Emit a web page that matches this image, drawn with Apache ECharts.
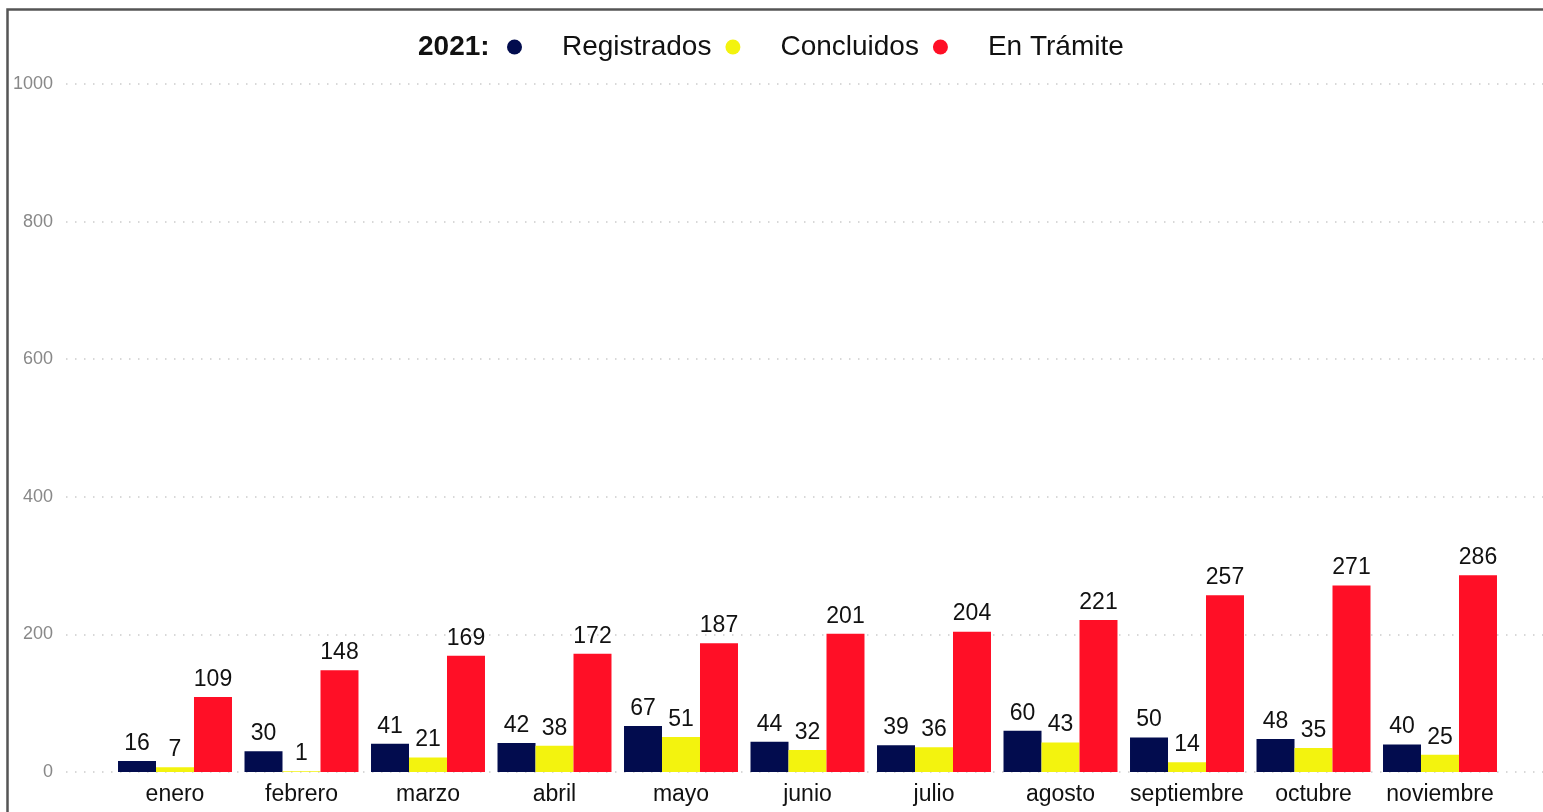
<!DOCTYPE html>
<html>
<head>
<meta charset="utf-8">
<title>2021 - Registrados / Concluidos / En Trámite</title>
<script src="https://cdn.jsdelivr.net/npm/echarts@6/dist/echarts.min.js"></script>
<style>
  html, body { margin: 0; padding: 0; background: #fff; }
  #chart { width: 1543px; height: 812px; }
</style>
</head>
<body>
<div id="chart"></div>
<script>
// datos
const months = ['enero', 'febrero', 'marzo', 'abril', 'mayo', 'junio', 'julio', 'agosto', 'septiembre', 'octubre', 'noviembre'];
const registrados = [16, 30, 41, 42, 67, 44, 39, 60, 50, 48, 40];
const concluidos = [7, 1, 21, 38, 51, 32, 36, 43, 14, 35, 25];
const enTramite = [109, 148, 169, 172, 187, 201, 204, 221, 257, 271, 286];
const seriesNames = ['Registrados', 'Concluidos', 'En Trámite'];
const seriesColors = ['#020C4E', '#F3F30E', '#FF0F26'];
const yearLabel = '2021:';
const yMax = 1000;
const yStep = 200;

const ChartApp = {
    chart: null,

    init() {
        this.chart = echarts.init(document.getElementById('chart'));
        this.render();
    },

    // etiqueta de valor encima de cada barra
    barSeries(name, values, color) {
        return {
            name: name,
            type: 'bar',
            xAxisIndex: 1, yAxisIndex: 1,
            data: values,
            barGap: 0,
            barCategoryGap: '9.9%',
            itemStyle: { color: color },
            label: {
                show: true, position: 'top', distance: 6,
                color: '#111', fontSize: 23, fontFamily: 'Liberation Sans'
            }
        };
    },

    render() {
        const font = 'Liberation Sans';
        const option = {
            animation: false,
            backgroundColor: '#fff',
            title: {
                text: yearLabel, left: 418, top: 33, padding: 0,
                textStyle: { fontSize: 28, fontWeight: 'bold', color: '#111', fontFamily: font }
            },
            legend: {
                left: 507, top: 33, padding: 0,
                icon: 'circle', itemWidth: 15, itemHeight: 15, itemGap: 14,
                data: seriesNames,
                textStyle: { fontSize: 28, color: '#111', fontFamily: font, padding: [0, 0, 0, 35] }
            },
            // grid 0: líneas punteadas y etiquetas del eje Y, grid 1: barras
            grid: [
                { left: 66, right: 0, top: 84, bottom: 40 },
                { left: 111.75, right: 39.75, top: 84, bottom: 40 }
            ],
            xAxis: [
                { gridIndex: 0, type: 'value', show: false },
                {
                    gridIndex: 1, type: 'category', data: months,
                    axisLine: { show: false }, axisTick: { show: false },
                    axisLabel: { interval: 0, color: '#111', fontSize: 23, fontFamily: font, margin: 11 }
                }
            ],
            yAxis: [
                {
                    gridIndex: 0, type: 'value', min: 0, max: yMax, interval: yStep,
                    axisLine: { show: false }, axisTick: { show: false },
                    axisLabel: { color: '#888', fontSize: 18, fontFamily: font, margin: 13, formatter: v => String(v) },
                    splitLine: { lineStyle: { color: '#cccccc', width: 1.5, type: [1.5, 7.5] } }
                },
                { gridIndex: 1, type: 'value', min: 0, max: yMax, show: false, splitLine: { show: false } }
            ],
            graphic: [{
                type: 'rect', silent: true,
                shape: { x: 7.5, y: 9.5, width: 1700, height: 900 },
                style: { fill: 'none', stroke: '#555', lineWidth: 2.5 }
            }],
            series: [
                this.barSeries(seriesNames[0], registrados, seriesColors[0]),
                this.barSeries(seriesNames[1], concluidos, seriesColors[1]),
                this.barSeries(seriesNames[2], enTramite, seriesColors[2])
            ]
        };
        this.chart.setOption(option);
    }
};

ChartApp.init();
</script>
</body>
</html>
